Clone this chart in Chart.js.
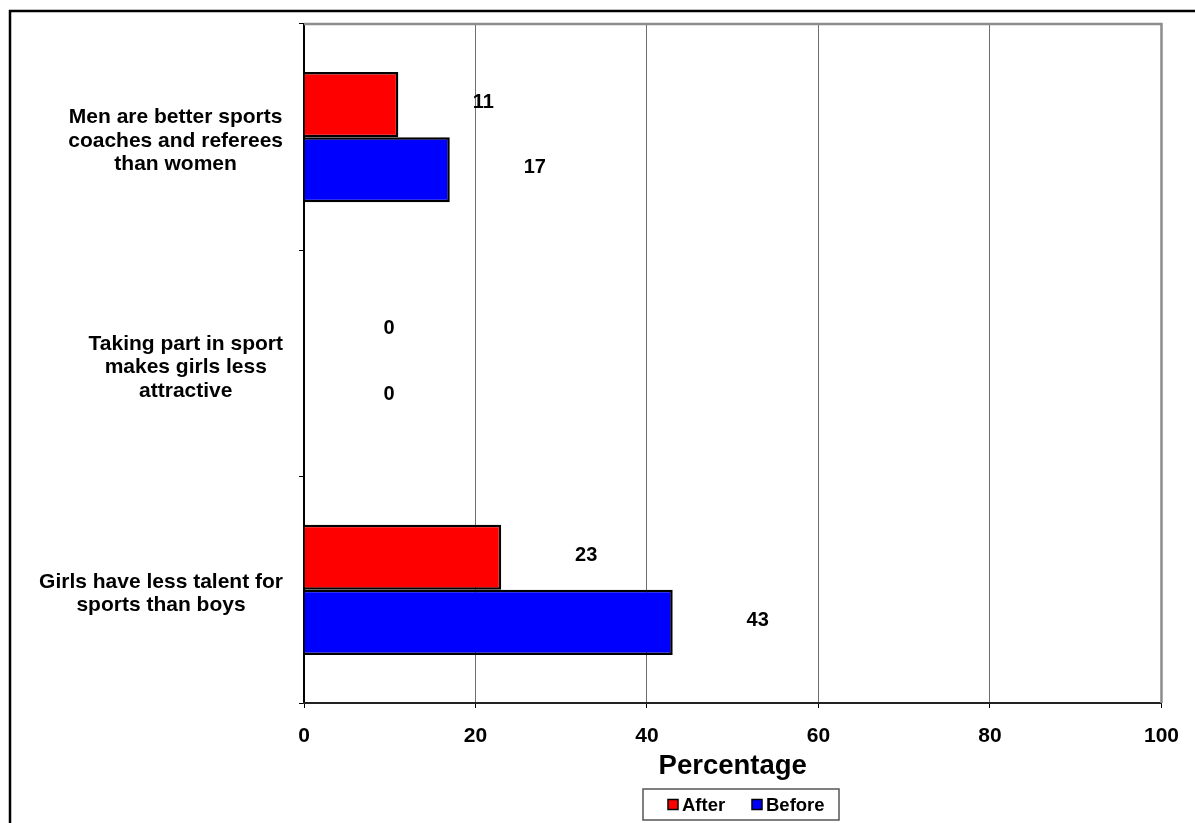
<!DOCTYPE html>
<html>
<head>
<meta charset="utf-8">
<script src="https://cdn.jsdelivr.net/npm/chart.js@4/dist/chart.umd.min.js"></script>
<style>
  html, body { margin: 0; padding: 0; background: #ffffff; }
  #wrap { position: relative; width: 1195px; height: 823px; }
  canvas { display: block; }
</style>
</head>
<body>
<div id="wrap"><canvas id="c" width="1195" height="823"></canvas></div>
<script>
const categories = [
  ["Men are better sports", "coaches and referees", "than women"],
  ["Taking part in sport", "makes girls less", "attractive"],
  ["Girls have less talent for", "sports than boys"]
];
const seriesNames = ["After", "Before"];
const afterValues = [11, 0, 23];
const beforeValues = [17, 0, 43];
const xAxisTitle = "Percentage";
const xMin = 0, xMax = 100, xStep = 20;

const FONT = "'Liberation Sans', Arial, sans-serif";

const framePlugin = {
  id: 'frame',
  beforeDraw(chart) {
    const ctx = chart.ctx;
    ctx.save();
    ctx.strokeStyle = '#000';
    ctx.lineWidth = 2.5;
    ctx.beginPath();
    ctx.moveTo(10, 830);
    ctx.lineTo(10, 11);
    ctx.lineTo(1200, 11);
    ctx.stroke();
    ctx.restore();
  },
  afterDraw(chart) {
    const ctx = chart.ctx;
    const a = chart.chartArea;
    ctx.save();
    ctx.strokeStyle = '#8c8c8c';
    ctx.lineWidth = 2.5;
    ctx.beginPath();
    ctx.moveTo(a.left, a.top);
    ctx.lineTo(a.right, a.top);
    ctx.lineTo(a.right, a.bottom);
    ctx.stroke();

    const yScale = chart.scales.y;
    ctx.font = 'bold 21px ' + FONT;
    ctx.fillStyle = '#000';
    ctx.textAlign = 'center';
    ctx.textBaseline = 'middle';
    const lh = 23.5;
    categories.forEach((lines, i) => {
      const cy = yScale.getPixelForTick(i) + 4;
      let maxW = 0;
      lines.forEach(l => { maxW = Math.max(maxW, ctx.measureText(l).width); });
      const cx = 283 - maxW / 2;
      const y0 = cy - (lines.length - 1) * lh / 2;
      lines.forEach((l, k) => ctx.fillText(l, cx, y0 + k * lh));
    });

    ctx.font = 'bold 20px ' + FONT;
    chart.data.datasets.forEach((ds, di) => {
      const meta = chart.getDatasetMeta(di);
      meta.data.forEach((bar, j) => {
        ctx.fillText(String(ds.data[j]), bar.x + 85, bar.y - 2);
      });
    });

    const lx = 643, ly = 789, lw = 196, lhgt = 31;
    ctx.fillStyle = '#fff';
    ctx.fillRect(lx, ly, lw, lhgt);
    ctx.strokeStyle = '#555';
    ctx.lineWidth = 1.5;
    ctx.strokeRect(lx, ly, lw, lhgt);
    ctx.font = 'bold 18.5px ' + FONT;
    ctx.textAlign = 'left';
    ctx.textBaseline = 'middle';
    const itemX = [668, 752];
    chart.data.datasets.forEach((ds, di) => {
      const x = itemX[di];
      const y = ly + lhgt / 2;
      ctx.fillStyle = ds.backgroundColor;
      ctx.fillRect(x, y - 5, 10, 10);
      ctx.strokeStyle = '#000';
      ctx.lineWidth = 1.5;
      ctx.strokeRect(x, y - 5, 10, 10);
      ctx.fillStyle = '#000';
      ctx.fillText(ds.label, x + 14, y + 1);
    });
    ctx.restore();
  }
};

new Chart(document.getElementById('c'), {
  type: 'bar',
  data: {
    labels: categories,
    datasets: [
      { label: seriesNames[0], data: afterValues, backgroundColor: '#ff0000', borderColor: '#000', borderWidth: 2.5, categoryPercentage: 0.575, barPercentage: 1.0 },
      { label: seriesNames[1], data: beforeValues, backgroundColor: '#0000ff', borderColor: '#000', borderWidth: 2.5, categoryPercentage: 0.575, barPercentage: 1.0 }
    ]
  },
  options: {
    indexAxis: 'y',
    responsive: false,
    animation: false,
    layout: { padding: { top: 24, right: 28, left: 0, bottom: 0 } },
    plugins: { legend: { display: false }, tooltip: { enabled: false } },
    scales: {
      y: {
        offset: true,
        ticks: { display: false },
        grid: { drawOnChartArea: false, offset: true, tickLength: 5, color: '#000', lineWidth: 1 },
        border: { color: '#000', width: 2 },
        afterFit(scale) { scale.width = 304; }
      },
      x: {
        min: xMin, max: xMax,
        ticks: { stepSize: xStep, color: '#000', font: { family: FONT, size: 21, weight: 'bold' }, padding: 16 },
        grid: { color: '#6e6e6e', lineWidth: 1, tickLength: 5, tickColor: '#000' },
        border: { color: '#222', width: 2 },
        title: { display: true, text: xAxisTitle, color: '#000', font: { family: FONT, size: 27.5, weight: 'bold' }, padding: { top: 0, bottom: 40 } },
        afterFit(scale) { scale.height = 120; }
      }
    }
  },
  plugins: [framePlugin]
});
</script>
</body>
</html>
